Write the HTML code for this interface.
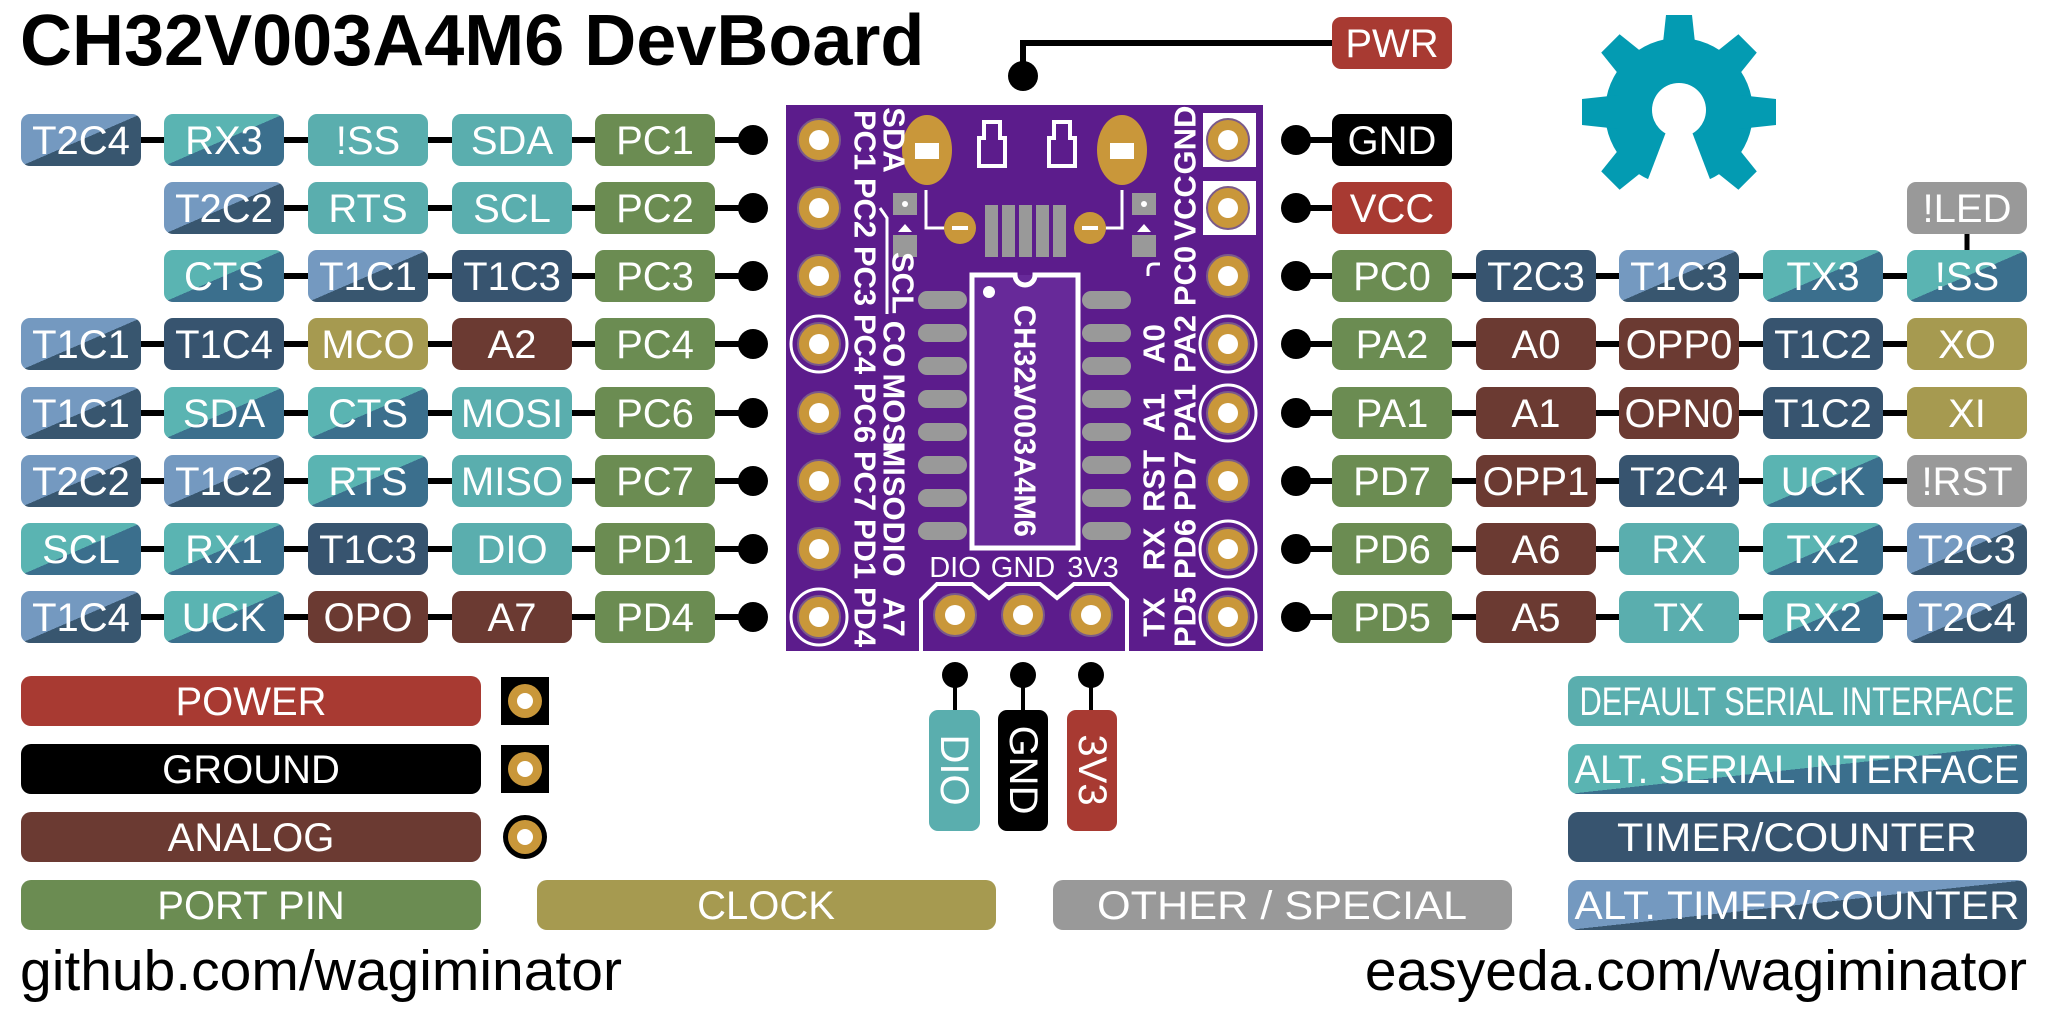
<!DOCTYPE html>
<html><head><meta charset="utf-8"><style>
html,body{margin:0;padding:0;background:#fff;}
svg{display:block}
.t{font-family:"Liberation Sans",sans-serif;font-size:40px;fill:#fff;text-anchor:middle}
.L{font-family:"Liberation Sans",sans-serif;font-size:40px;fill:#fff;text-anchor:middle}
.b{font-family:"Liberation Sans",sans-serif;font-weight:bold;font-size:31px;fill:#fff;text-anchor:middle;dominant-baseline:central}
.g{fill:#6b8c52}.se{fill:#5aaeae}.tm{fill:#37546f}.an{fill:#6b3a32}.rd{fill:#a83a32}.ck{fill:#a69a50}.ot{fill:#999}.bk{fill:#000}
.as{fill:url(#gas)}.at{fill:url(#gat)}
.ln{stroke:#000;stroke-width:6}
</style></head><body>
<svg width="2048" height="1019" viewBox="0 0 2048 1019" xmlns="http://www.w3.org/2000/svg">
<defs>
<linearGradient id="gas" x1="0" y1="0" x2="1" y2="1"><stop offset="0.5" stop-color="#5ab4b2"/><stop offset="0.5" stop-color="#3b6f8d"/></linearGradient>
<linearGradient id="gat" x1="0" y1="0" x2="1" y2="1"><stop offset="0.5" stop-color="#7499c0"/><stop offset="0.5" stop-color="#38566f"/></linearGradient>
<g id="pad"><circle r="21" fill="#c9973a" stroke="#7a5a8a" stroke-width="2"/><circle r="10" fill="#fff"/></g>
<rect id="bx" width="120" height="52" rx="9"/>
</defs>

<text x="20" y="65" font-family="Liberation Sans,sans-serif" font-weight="bold" font-size="72">CH32V003A4M6 DevBoard</text>

<g class="ln">
<line x1="30" y1="140" x2="753" y2="140"/><line x1="170" y1="208" x2="753" y2="208"/><line x1="170" y1="276" x2="753" y2="276"/>
<line x1="30" y1="344" x2="753" y2="344"/><line x1="30" y1="413" x2="753" y2="413"/><line x1="30" y1="481" x2="753" y2="481"/>
<line x1="30" y1="549" x2="753" y2="549"/><line x1="30" y1="617" x2="753" y2="617"/>
<line x1="1296" y1="140" x2="1340" y2="140"/><line x1="1296" y1="208" x2="1340" y2="208"/>
<line x1="1296" y1="276" x2="2020" y2="276"/><line x1="1296" y1="344" x2="2020" y2="344"/><line x1="1296" y1="413" x2="2020" y2="413"/>
<line x1="1296" y1="481" x2="2020" y2="481"/><line x1="1296" y1="549" x2="2020" y2="549"/><line x1="1296" y1="617" x2="2020" y2="617"/>
<line x1="1967" y1="230" x2="1967" y2="255" stroke-width="5"/>
<polyline points="1340,43 1023,43 1023,76" fill="none"/>
<line x1="955" y1="675" x2="955" y2="715" stroke-width="4"/><line x1="1023" y1="675" x2="1023" y2="715" stroke-width="4"/><line x1="1091" y1="675" x2="1091" y2="715" stroke-width="4"/>
</g>
<g fill="#000">
<circle cx="753" cy="140" r="15"/><circle cx="753" cy="208" r="15"/><circle cx="753" cy="276" r="15"/><circle cx="753" cy="344" r="15"/>
<circle cx="753" cy="413" r="15"/><circle cx="753" cy="481" r="15"/><circle cx="753" cy="549" r="15"/><circle cx="753" cy="617" r="15"/>
<circle cx="1296" cy="140" r="15"/><circle cx="1296" cy="208" r="15"/><circle cx="1296" cy="276" r="15"/><circle cx="1296" cy="344" r="15"/>
<circle cx="1296" cy="413" r="15"/><circle cx="1296" cy="481" r="15"/><circle cx="1296" cy="549" r="15"/><circle cx="1296" cy="617" r="15"/>
<circle cx="1023" cy="76" r="15"/>
<circle cx="955" cy="675" r="13"/><circle cx="1023" cy="675" r="13"/><circle cx="1091" cy="675" r="13"/>
</g>

<g>
<use href="#bx" x="21" y="114" class="at"/><text class="t" x="81" y="154">T2C4</text>
<use href="#bx" x="164" y="114" class="as"/><text class="t" x="224" y="154">RX3</text>
<use href="#bx" x="308" y="114" class="se"/><text class="t" x="368" y="154">!SS</text>
<use href="#bx" x="452" y="114" class="se"/><text class="t" x="512" y="154">SDA</text>
<use href="#bx" x="595" y="114" class="g"/><text class="t" x="655" y="154">PC1</text>

<use href="#bx" x="164" y="182" class="at"/><text class="t" x="224" y="222">T2C2</text>
<use href="#bx" x="308" y="182" class="se"/><text class="t" x="368" y="222">RTS</text>
<use href="#bx" x="452" y="182" class="se"/><text class="t" x="512" y="222">SCL</text>
<use href="#bx" x="595" y="182" class="g"/><text class="t" x="655" y="222">PC2</text>

<use href="#bx" x="164" y="250" class="as"/><text class="t" x="224" y="290">CTS</text>
<use href="#bx" x="308" y="250" class="at"/><text class="t" x="368" y="290">T1C1</text>
<use href="#bx" x="452" y="250" class="tm"/><text class="t" x="512" y="290">T1C3</text>
<use href="#bx" x="595" y="250" class="g"/><text class="t" x="655" y="290">PC3</text>

<use href="#bx" x="21" y="318" class="at"/><text class="t" x="81" y="358">T1C1</text>
<use href="#bx" x="164" y="318" class="tm"/><text class="t" x="224" y="358">T1C4</text>
<use href="#bx" x="308" y="318" class="ck"/><text class="t" x="368" y="358">MCO</text>
<use href="#bx" x="452" y="318" class="an"/><text class="t" x="512" y="358">A2</text>
<use href="#bx" x="595" y="318" class="g"/><text class="t" x="655" y="358">PC4</text>

<use href="#bx" x="21" y="387" class="at"/><text class="t" x="81" y="427">T1C1</text>
<use href="#bx" x="164" y="387" class="as"/><text class="t" x="224" y="427">SDA</text>
<use href="#bx" x="308" y="387" class="as"/><text class="t" x="368" y="427">CTS</text>
<use href="#bx" x="452" y="387" class="se"/><text class="t" x="512" y="427">MOSI</text>
<use href="#bx" x="595" y="387" class="g"/><text class="t" x="655" y="427">PC6</text>

<use href="#bx" x="21" y="455" class="at"/><text class="t" x="81" y="495">T2C2</text>
<use href="#bx" x="164" y="455" class="at"/><text class="t" x="224" y="495">T1C2</text>
<use href="#bx" x="308" y="455" class="as"/><text class="t" x="368" y="495">RTS</text>
<use href="#bx" x="452" y="455" class="se"/><text class="t" x="512" y="495">MISO</text>
<use href="#bx" x="595" y="455" class="g"/><text class="t" x="655" y="495">PC7</text>

<use href="#bx" x="21" y="523" class="as"/><text class="t" x="81" y="563">SCL</text>
<use href="#bx" x="164" y="523" class="as"/><text class="t" x="224" y="563">RX1</text>
<use href="#bx" x="308" y="523" class="tm"/><text class="t" x="368" y="563">T1C3</text>
<use href="#bx" x="452" y="523" class="se"/><text class="t" x="512" y="563">DIO</text>
<use href="#bx" x="595" y="523" class="g"/><text class="t" x="655" y="563">PD1</text>

<use href="#bx" x="21" y="591" class="at"/><text class="t" x="81" y="631">T1C4</text>
<use href="#bx" x="164" y="591" class="as"/><text class="t" x="224" y="631">UCK</text>
<use href="#bx" x="308" y="591" class="an"/><text class="t" x="368" y="631">OPO</text>
<use href="#bx" x="452" y="591" class="an"/><text class="t" x="512" y="631">A7</text>
<use href="#bx" x="595" y="591" class="g"/><text class="t" x="655" y="631">PD4</text>
</g>

<g>
<use href="#bx" x="1332" y="17" class="rd"/><text class="t" x="1392" y="57">PWR</text>
<use href="#bx" x="1332" y="114" class="bk"/><text class="t" x="1392" y="154">GND</text>
<use href="#bx" x="1332" y="182" class="rd"/><text class="t" x="1392" y="222">VCC</text>
<use href="#bx" x="1907" y="182" class="ot"/><text class="t" x="1967" y="222">!LED</text>

<use href="#bx" x="1332" y="250" class="g"/><text class="t" x="1392" y="290">PC0</text>
<use href="#bx" x="1476" y="250" class="tm"/><text class="t" x="1536" y="290">T2C3</text>
<use href="#bx" x="1619" y="250" class="at"/><text class="t" x="1679" y="290">T1C3</text>
<use href="#bx" x="1763" y="250" class="as"/><text class="t" x="1823" y="290">TX3</text>
<use href="#bx" x="1907" y="250" class="as"/><text class="t" x="1967" y="290">!SS</text>

<use href="#bx" x="1332" y="318" class="g"/><text class="t" x="1392" y="358">PA2</text>
<use href="#bx" x="1476" y="318" class="an"/><text class="t" x="1536" y="358">A0</text>
<use href="#bx" x="1619" y="318" class="an"/><text class="t" x="1679" y="358">OPP0</text>
<use href="#bx" x="1763" y="318" class="tm"/><text class="t" x="1823" y="358">T1C2</text>
<use href="#bx" x="1907" y="318" class="ck"/><text class="t" x="1967" y="358">XO</text>

<use href="#bx" x="1332" y="387" class="g"/><text class="t" x="1392" y="427">PA1</text>
<use href="#bx" x="1476" y="387" class="an"/><text class="t" x="1536" y="427">A1</text>
<use href="#bx" x="1619" y="387" class="an"/><text class="t" x="1679" y="427">OPN0</text>
<use href="#bx" x="1763" y="387" class="tm"/><text class="t" x="1823" y="427">T1C2</text>
<use href="#bx" x="1907" y="387" class="ck"/><text class="t" x="1967" y="427">XI</text>

<use href="#bx" x="1332" y="455" class="g"/><text class="t" x="1392" y="495">PD7</text>
<use href="#bx" x="1476" y="455" class="an"/><text class="t" x="1536" y="495">OPP1</text>
<use href="#bx" x="1619" y="455" class="tm"/><text class="t" x="1679" y="495">T2C4</text>
<use href="#bx" x="1763" y="455" class="as"/><text class="t" x="1823" y="495">UCK</text>
<use href="#bx" x="1907" y="455" class="ot"/><text class="t" x="1967" y="495">!RST</text>

<use href="#bx" x="1332" y="523" class="g"/><text class="t" x="1392" y="563">PD6</text>
<use href="#bx" x="1476" y="523" class="an"/><text class="t" x="1536" y="563">A6</text>
<use href="#bx" x="1619" y="523" class="se"/><text class="t" x="1679" y="563">RX</text>
<use href="#bx" x="1763" y="523" class="as"/><text class="t" x="1823" y="563">TX2</text>
<use href="#bx" x="1907" y="523" class="at"/><text class="t" x="1967" y="563">T2C3</text>

<use href="#bx" x="1332" y="591" class="g"/><text class="t" x="1392" y="631">PD5</text>
<use href="#bx" x="1476" y="591" class="an"/><text class="t" x="1536" y="631">A5</text>
<use href="#bx" x="1619" y="591" class="se"/><text class="t" x="1679" y="631">TX</text>
<use href="#bx" x="1763" y="591" class="as"/><text class="t" x="1823" y="631">RX2</text>
<use href="#bx" x="1907" y="591" class="at"/><text class="t" x="1967" y="631">T2C4</text>
</g>

<g fill="#039bb2">
<circle cx="1679" cy="112" r="74"/>
<g transform="translate(1679,112)">
<polygon points="-17,-60 -13,-97 13,-97 17,-60" transform="rotate(0)"/>
<polygon points="-17,-60 -13,-97 13,-97 17,-60" transform="rotate(45)"/>
<polygon points="-17,-60 -13,-97 13,-97 17,-60" transform="rotate(90)"/>
<polygon points="-17,-60 -13,-97 13,-97 17,-60" transform="rotate(135)"/>
<polygon points="-17,-60 -13,-97 13,-97 17,-60" transform="rotate(225)"/>
<polygon points="-17,-60 -13,-97 13,-97 17,-60" transform="rotate(270)"/>
<polygon points="-17,-60 -13,-97 13,-97 17,-60" transform="rotate(315)"/>
</g>
</g>
<circle cx="1679" cy="110" r="27" fill="#fff"/>
<polygon points="1666,132 1692,132 1716,195 1642,195" fill="#fff"/>

<rect x="786" y="105" width="477" height="546" fill="#5c1c8c"/>
<rect x="970" y="275" width="110" height="275" fill="#6a2d9c" opacity="0.8"/>
<g>
<ellipse cx="927" cy="150" rx="25" ry="35" fill="#c9973a"/><rect x="915" y="143" width="24" height="16" fill="#fff"/>
<ellipse cx="1122" cy="150" rx="25" ry="35" fill="#c9973a"/><rect x="1110" y="143" width="24" height="16" fill="#fff"/>
<path d="M984,122 h16 v16 h5 v28 h-26 v-28 h5 z" fill="none" stroke="#fff" stroke-width="4"/>
<path d="M1054,122 h16 v16 h5 v28 h-26 v-28 h5 z" fill="none" stroke="#fff" stroke-width="4"/>
<polyline points="926,190 926,228 952,228" fill="none" stroke="#fff" stroke-width="3"/>
<polyline points="1122,190 1122,228 1096,228" fill="none" stroke="#fff" stroke-width="3"/>
<rect x="893" y="193" width="24" height="22" fill="#999"/><circle cx="905" cy="204" r="3" fill="#fff"/>
<rect x="893" y="235" width="24" height="22" fill="#999"/><polygon points="898,232 905,224 912,232" fill="#fff"/>
<rect x="1132" y="193" width="24" height="22" fill="#999"/><circle cx="1144" cy="204" r="3" fill="#fff"/>
<rect x="1132" y="235" width="24" height="22" fill="#999"/><polygon points="1137,232 1144,224 1151,232" fill="#fff"/>
<circle cx="960" cy="228" r="16" fill="#c9973a"/><rect x="952" y="226" width="16" height="4" fill="#fff"/>
<circle cx="1090" cy="228" r="16" fill="#c9973a"/><rect x="1082" y="226" width="16" height="4" fill="#fff"/>
<g fill="#999"><rect x="985" y="205" width="13" height="52"/><rect x="1002" y="205" width="13" height="52"/><rect x="1019" y="205" width="13" height="52"/><rect x="1036" y="205" width="13" height="52"/><rect x="1053" y="205" width="13" height="52"/></g>
<polyline points="880,208 887,218 887,314" fill="none" stroke="#fff" stroke-width="3"/>
<path d="M1148,276 v-6 q0,-6 6,-6 h6" fill="none" stroke="#fff" stroke-width="3"/>
</g>
<path d="M972,275 H1015 A10,10 0 0 0 1035,275 H1078 V548 H972 Z" fill="none" stroke="#fff" stroke-width="5"/>
<circle cx="989" cy="292" r="6" fill="#fff"/><circle cx="1017" cy="345" r="3" fill="#fff"/><circle cx="1017" cy="388" r="3" fill="#fff"/>
<g fill="#999">
<rect x="918" y="291" width="49" height="18" rx="9"/><rect x="918" y="324" width="49" height="18" rx="9"/><rect x="918" y="357" width="49" height="18" rx="9"/><rect x="918" y="390" width="49" height="18" rx="9"/>
<rect x="918" y="423" width="49" height="18" rx="9"/><rect x="918" y="456" width="49" height="18" rx="9"/><rect x="918" y="489" width="49" height="18" rx="9"/><rect x="918" y="522" width="49" height="18" rx="9"/>
<rect x="1082" y="291" width="49" height="18" rx="9"/><rect x="1082" y="324" width="49" height="18" rx="9"/><rect x="1082" y="357" width="49" height="18" rx="9"/><rect x="1082" y="390" width="49" height="18" rx="9"/>
<rect x="1082" y="423" width="49" height="18" rx="9"/><rect x="1082" y="456" width="49" height="18" rx="9"/><rect x="1082" y="489" width="49" height="18" rx="9"/><rect x="1082" y="522" width="49" height="18" rx="9"/>
</g>
<text class="b" transform="translate(1025,421) rotate(90)" font-size="29" textLength="232" lengthAdjust="spacingAndGlyphs">CH32V003A4M6</text>
<rect x="1203" y="113" width="53" height="54" fill="#fff"/><rect x="1203" y="181" width="53" height="54" fill="#fff"/>
<g fill="none" stroke="#fff" stroke-width="3">
<circle cx="819" cy="344" r="28"/><circle cx="819" cy="617" r="28"/>
<circle cx="1228" cy="344" r="28"/><circle cx="1228" cy="413" r="28"/><circle cx="1228" cy="549" r="28"/><circle cx="1228" cy="617" r="28"/>
</g>
<use href="#pad" x="819" y="140"/><use href="#pad" x="819" y="208"/><use href="#pad" x="819" y="276"/><use href="#pad" x="819" y="344"/>
<use href="#pad" x="819" y="413"/><use href="#pad" x="819" y="481"/><use href="#pad" x="819" y="549"/><use href="#pad" x="819" y="617"/>
<use href="#pad" x="1228" y="140"/><use href="#pad" x="1228" y="208"/><use href="#pad" x="1228" y="276"/><use href="#pad" x="1228" y="344"/>
<use href="#pad" x="1228" y="413"/><use href="#pad" x="1228" y="481"/><use href="#pad" x="1228" y="549"/><use href="#pad" x="1228" y="617"/>
<path d="M921,651 V600 L937,584 H972 L989,598 L1006,584 H1040 L1057,598 L1074,584 H1110 L1127,600 V651" fill="none" stroke="#fff" stroke-width="4"/>
<use href="#pad" x="955" y="615"/><use href="#pad" x="1023" y="615"/><use href="#pad" x="1091" y="615"/>
<g font-family="Liberation Sans,sans-serif" font-size="29" fill="#fff" text-anchor="middle">
<text x="955" y="577">DIO</text><text x="1023" y="577">GND</text><text x="1093" y="577">3V3</text>
</g>
<g class="b">
<text transform="translate(865,140) rotate(90)">PC1</text><text transform="translate(865,208) rotate(90)">PC2</text>
<text transform="translate(865,276) rotate(90)">PC3</text><text transform="translate(865,344) rotate(90)">PC4</text>
<text transform="translate(865,413) rotate(90)">PC6</text><text transform="translate(865,481) rotate(90)">PC7</text>
<text transform="translate(865,549) rotate(90)">PD1</text><text transform="translate(865,617) rotate(90)">PD4</text>
<text transform="translate(894,140) rotate(90)">SDA</text><text transform="translate(903,283) rotate(90)">SCL</text>
<text transform="translate(894,344) rotate(90)">CO</text><text transform="translate(894,413) rotate(90)">MOSI</text>
<text transform="translate(894,481) rotate(90)">MISO</text><text transform="translate(894,549) rotate(90)">DIO</text>
<text transform="translate(894,617) rotate(90)">A7</text>
<text transform="translate(1185,140) rotate(-90)">GND</text><text transform="translate(1185,208) rotate(-90)">VCC</text>
<text transform="translate(1185,276) rotate(-90)">PC0</text><text transform="translate(1185,344) rotate(-90)">PA2</text>
<text transform="translate(1185,413) rotate(-90)">PA1</text><text transform="translate(1185,481) rotate(-90)">PD7</text>
<text transform="translate(1185,549) rotate(-90)">PD6</text><text transform="translate(1185,617) rotate(-90)">PD5</text>
<text transform="translate(1154,344) rotate(-90)">A0</text><text transform="translate(1154,413) rotate(-90)">A1</text>
<text transform="translate(1154,481) rotate(-90)">RST</text><text transform="translate(1154,549) rotate(-90)">RX</text>
<text transform="translate(1154,617) rotate(-90)">TX</text>
</g>

<rect x="929" y="710" width="51" height="121" rx="9" class="se"/>
<rect x="998" y="710" width="50" height="121" rx="9" class="bk"/>
<rect x="1067" y="710" width="50" height="121" rx="9" class="rd"/>
<g class="t"><text transform="translate(941,770) rotate(90)" text-anchor="middle">DIO</text>
<text transform="translate(1010,770) rotate(90)" text-anchor="middle">GND</text>
<text transform="translate(1079,770) rotate(90)" text-anchor="middle">3V3</text></g>

<rect x="21" y="676" width="460" height="50" rx="10" class="rd"/><text class="L" x="251" y="715">POWER</text>
<rect x="21" y="744" width="460" height="50" rx="10" class="bk"/><text class="L" x="251" y="783">GROUND</text>
<rect x="21" y="812" width="460" height="50" rx="10" class="an"/><text class="L" x="251" y="851">ANALOG</text>
<rect x="21" y="880" width="460" height="50" rx="10" class="g"/><text class="L" x="251" y="919">PORT PIN</text>
<rect x="537" y="880" width="459" height="50" rx="10" class="ck"/><text class="L" x="766" y="919">CLOCK</text>
<rect x="1053" y="880" width="459" height="50" rx="10" class="ot"/><text class="L" x="1282" y="919" textLength="370" lengthAdjust="spacingAndGlyphs">OTHER / SPECIAL</text>
<rect x="1568" y="676" width="459" height="50" rx="10" class="se"/><text class="L" x="1797" y="715" textLength="435" lengthAdjust="spacingAndGlyphs">DEFAULT SERIAL INTERFACE</text>
<rect x="1568" y="744" width="459" height="50" rx="10" class="as"/><text class="L" x="1797" y="783" textLength="445" lengthAdjust="spacingAndGlyphs">ALT. SERIAL INTERFACE</text>
<rect x="1568" y="812" width="459" height="50" rx="10" class="tm"/><text class="L" x="1797" y="851" textLength="360" lengthAdjust="spacingAndGlyphs">TIMER/COUNTER</text>
<rect x="1568" y="880" width="459" height="50" rx="10" class="at"/><text class="L" x="1797" y="919" textLength="445" lengthAdjust="spacingAndGlyphs">ALT. TIMER/COUNTER</text>
<rect x="501" y="677" width="48" height="48" fill="#000"/><circle cx="525" cy="701" r="17" fill="#c9973a"/><circle cx="525" cy="701" r="8" fill="#fff"/>
<rect x="501" y="745" width="48" height="48" fill="#000"/><circle cx="525" cy="769" r="17" fill="#c9973a"/><circle cx="525" cy="769" r="8" fill="#fff"/>
<circle cx="525" cy="837" r="22" fill="#000"/><circle cx="525" cy="837" r="17" fill="#c9973a"/><circle cx="525" cy="837" r="8" fill="#fff"/>

<text x="20" y="990" font-family="Liberation Sans,sans-serif" font-size="57">github.com/wagiminator</text>
<text x="2027" y="990" font-family="Liberation Sans,sans-serif" font-size="57" text-anchor="end">easyeda.com/wagiminator</text>
</svg>
</body></html>
